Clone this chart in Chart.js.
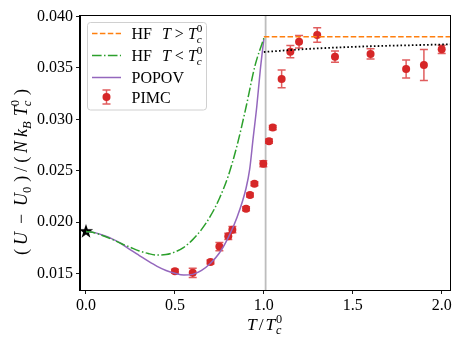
<!DOCTYPE html>
<html><head><meta charset="utf-8">
<script src="https://cdn.jsdelivr.net/npm/chart.js@4/dist/chart.umd.min.js"></script>
<style>html,body{margin:0;padding:0;background:#fff;overflow:hidden}</style>
</head><body>
<canvas id="c" width="463" height="347"></canvas>
<script>
// ---- data ----
const xTicks = [0.0, 0.5, 1.0, 1.5, 2.0];
const yTicks = [0.015, 0.020, 0.025, 0.030, 0.035, 0.040];

const pimcT   = [0.5, 0.6, 0.7, 0.75, 0.8, 0.823, 0.9, 0.922, 0.947, 0.997, 1.029, 1.05, 1.1, 1.149, 1.198, 1.3, 1.4, 1.6, 1.8, 1.9, 2.0];
const pimcU   = [0.01522, 0.01507, 0.01613, 0.01762, 0.01862, 0.01927, 0.02131, 0.02264, 0.02374, 0.02568, 0.02788, 0.0292, 0.03393, 0.03658, 0.03755, 0.0382, 0.0361, 0.03636, 0.0349, 0.03529, 0.03681];
const pimcErr = [0.0002, 0.00045, 0.0002, 0.0004, 0.0003, 0.0003, 0.0002, 0.0002, 0.0002, 0.0003, 0.0002, 0.0002, 0.00086, 0.0006, 0.0006, 0.0007, 0.00055, 0.0005, 0.00087, 0.0015, 0.0004];

const popovT = [0, 0.05, 0.1, 0.15, 0.2, 0.25, 0.3, 0.35, 0.4, 0.45, 0.5, 0.55, 0.6, 0.65, 0.7, 0.75, 0.8, 0.85, 0.9, 0.92, 0.94, 0.96, 0.98, 1.0];
const popovU = [0.0191, 0.01898, 0.0187, 0.01835, 0.0179, 0.0173, 0.01675, 0.0162, 0.0157, 0.0153, 0.01502, 0.01485, 0.01492, 0.0153, 0.0160, 0.0170, 0.0185, 0.0205, 0.0233, 0.0251, 0.0282, 0.0312, 0.0348, 0.0378];

const hfLowT = [0, 0.05, 0.1, 0.15, 0.2, 0.25, 0.3, 0.35, 0.4, 0.45, 0.5, 0.55, 0.6, 0.65, 0.7, 0.75, 0.8, 0.85, 0.9, 0.95, 1.0];
const hfLowU = [0.0191, 0.01895, 0.01865, 0.0183, 0.0179, 0.01755, 0.0172, 0.01695, 0.0168, 0.01685, 0.0171, 0.01755, 0.0183, 0.0193, 0.0206, 0.0223, 0.0245, 0.0275, 0.0312, 0.0352, 0.0379];

const hfHighT = [1.0, 2.1];
const hfHighU = [0.03804, 0.03804];

const dottedT = [1.0, 1.1, 1.2, 1.3, 1.4, 1.5, 1.6, 1.7, 1.8, 1.9, 2.0, 2.1];
const dottedU = [0.03655, 0.03668, 0.0368, 0.0369, 0.03698, 0.03705, 0.03711, 0.03716, 0.0372, 0.03724, 0.03728, 0.03732];

const starT = [0.0];
const starU = [0.01915];

const tcLine = 1.01;

// ---- helpers ----
const pts = (xs, ys) => xs.map((x, i) => ({x, y: ys[i]}));
const FONT = "'Liberation Serif', 'DejaVu Serif', serif";
const FS = 16;

function fnt(size, it) { return (it ? 'italic ' : '') + size + 'px ' + FONT; }
function partW(ctx, p, size) {
  if (p.t !== undefined) { ctx.font = fnt(size, p.i); return ctx.measureText(p.t).width; }
  if (p.gap) return p.gap;
  let a = 0, b = 0;
  if (p.sub) { ctx.font = fnt(size * 0.7, p.subI); a = ctx.measureText(p.sub).width; }
  if (p.sup) { ctx.font = fnt(size * 0.7, p.supI); b = ctx.measureText(p.sup).width; }
  return Math.max(a, b) + 1;
}
function drawRich(ctx, x, y, parts, size, align, target) {
  let w = 0, ws = 0;
  parts.forEach((p, k) => { w += partW(ctx, p, size); if (k < parts.length - 1) ws += (p.w === undefined ? 1 : p.w); });
  const extra = target && ws ? Math.max(0, (target - w) / ws) : 0;
  const tw = target ? Math.max(target, w) : w;
  let cx = align === 'center' ? x - tw / 2 : x;
  ctx.save();
  ctx.textBaseline = 'alphabetic'; ctx.textAlign = 'left'; ctx.fillStyle = '#000';
  parts.forEach(p => {
    const pw = partW(ctx, p, size);
    if (p.t !== undefined) { ctx.font = fnt(size, p.i); ctx.fillText(p.t, cx, y); }
    else if (!p.gap) {
      if (p.sub) { ctx.font = fnt(size * 0.7, p.subI); ctx.fillText(p.sub, cx, y + size * 0.22); }
      if (p.sup) { ctx.font = fnt(size * 0.7, p.supI); ctx.fillText(p.sup, cx, y - size * 0.42); }
    }
    cx += pw + extra * (p.w === undefined ? 1 : p.w);
  });
  ctx.restore();
}

// star marker image
const starImg = document.createElement('canvas');
starImg.width = 16; starImg.height = 16;
(function () {
  const c = starImg.getContext('2d');
  c.fillStyle = '#000'; c.beginPath();
  for (let k = 0; k < 10; k++) {
    const r = k % 2 === 0 ? 7.5 : 3.0;
    const a = -Math.PI / 2 + k * Math.PI / 5;
    const px = 8 + r * Math.cos(a), py = 8.6 + r * Math.sin(a);
    k === 0 ? c.moveTo(px, py) : c.lineTo(px, py);
  }
  c.closePath(); c.fill();
})();

const RED = '#d62728';

const bgPlugin = {
  id: 'bgLines',
  beforeDatasetsDraw(chart) {
    const {ctx, chartArea: a, scales: {x}} = chart;
    const px = x.getPixelForValue(tcLine);
    ctx.save(); ctx.strokeStyle = '#bdbdbd'; ctx.lineWidth = 1.8;
    ctx.beginPath(); ctx.moveTo(px, a.top); ctx.lineTo(px, a.bottom); ctx.stroke(); ctx.restore();
  },
  beforeDatasetDraw(chart, args) {
    if (chart.data.datasets[args.index].label !== 'PIMC') return;
    const {ctx, scales: {x, y}} = chart;
    ctx.save(); ctx.strokeStyle = 'rgba(214,39,40,0.75)'; ctx.lineWidth = 1.5;
    pimcT.forEach((t, i) => {
      const px = x.getPixelForValue(t);
      const y1 = y.getPixelForValue(pimcU[i] - pimcErr[i]);
      const y2 = y.getPixelForValue(pimcU[i] + pimcErr[i]);
      ctx.beginPath();
      ctx.moveTo(px, y1); ctx.lineTo(px, y2);
      ctx.moveTo(px - 4, y1); ctx.lineTo(px + 4, y1);
      ctx.moveTo(px - 4, y2); ctx.lineTo(px + 4, y2);
      ctx.stroke();
    });
    ctx.restore();
  },
  afterDatasetsDraw(chart) {
    const ctx = chart.ctx;
    ctx.save();
    ctx.beginPath(); ctx.roundRect(87.5, 22.5, 119, 87.5, 3);
    ctx.fillStyle = 'rgba(255,255,255,0.8)'; ctx.fill();
    ctx.strokeStyle = '#d0d0d0'; ctx.lineWidth = 1; ctx.stroke();
    const x0 = 92, x1 = 121, tx = 131.5;
    const rows = [33.5, 55.5, 77.5, 97];
    ctx.lineWidth = 1.5;
    ctx.strokeStyle = '#ff7f0e'; ctx.setLineDash([5.5, 2.4]);
    ctx.beginPath(); ctx.moveTo(x0, rows[0]); ctx.lineTo(x1, rows[0]); ctx.stroke();
    ctx.strokeStyle = '#2ca02c'; ctx.setLineDash([9.6, 2.4, 1.5, 2.4]);
    ctx.beginPath(); ctx.moveTo(x0, rows[1]); ctx.lineTo(x1, rows[1]); ctx.stroke();
    ctx.strokeStyle = '#9467bd'; ctx.setLineDash([]);
    ctx.beginPath(); ctx.moveTo(x0, rows[2]); ctx.lineTo(x1, rows[2]); ctx.stroke();
    const mx = (x0 + x1) / 2;
    ctx.strokeStyle = 'rgba(214,39,40,0.75)';
    ctx.beginPath();
    ctx.moveTo(mx, rows[3] - 7); ctx.lineTo(mx, rows[3] + 7);
    ctx.moveTo(mx - 4, rows[3] - 7); ctx.lineTo(mx + 4, rows[3] - 7);
    ctx.moveTo(mx - 4, rows[3] + 7); ctx.lineTo(mx + 4, rows[3] + 7);
    ctx.stroke();
    ctx.fillStyle = RED; ctx.beginPath(); ctx.arc(mx, rows[3], 4, 0, 2 * Math.PI); ctx.fill();
    const tcParts = [{sub: 'c', subI: true, sup: '0'}];
    drawRich(ctx, tx, rows[0] + 5.5, [{t: 'HF'}, {gap: 10}, {t: 'T', i: true}, {t: ' > '}, {t: 'T', i: true}, ...tcParts], FS);
    drawRich(ctx, tx, rows[1] + 5.5, [{t: 'HF'}, {gap: 10}, {t: 'T', i: true}, {t: ' < '}, {t: 'T', i: true}, ...tcParts], FS);
    drawRich(ctx, tx, rows[2] + 5.5, [{t: 'POPOV'}], FS);
    drawRich(ctx, tx, rows[3] + 5.5, [{t: 'PIMC'}], FS);
    ctx.restore();
  },
  afterDraw(chart) {
    const {ctx, chartArea: a} = chart;
    ctx.save();
    ctx.strokeStyle = '#000'; ctx.lineWidth = 1;
    ctx.strokeRect(Math.round(a.left) - 0.5, Math.round(a.top) + 0.5, Math.round(a.right - a.left) + 1, Math.round(a.bottom - a.top));
    drawRich(ctx, 265, 330, [{t: 'T', i: true}, {t: '/'}, {t: 'T', i: true, w: 0.3}, {sub: 'c', subI: true, sup: '0'}], 17.5, 'center', 36);
    ctx.translate(27, 172); ctx.rotate(-Math.PI / 2);
    drawRich(ctx, 0, 0, [
      {t: '('}, {t: 'U', i: true, w: 2}, {t: '−', w: 2}, {t: 'U', i: true, w: 0}, {sub: '0'}, {t: ')'}, {t: '/'},
      {t: '('}, {t: 'N', i: true}, {t: 'k', i: true, w: 0}, {sub: 'B', subI: true}, {t: 'T', i: true, w: 0}, {sub: 'c', subI: true, sup: '0'}, {t: ')'}
    ], 18, 'center', 166);
    ctx.restore();
  }
};

new Chart(document.getElementById('c'), {
  type: 'scatter',
  data: {
    datasets: [
      {label: 'HF T>Tc', data: pts(hfHighT, hfHighU), showLine: true, pointRadius: 0, borderColor: '#ff7f0e', borderWidth: 1.5, borderDash: [5.5, 2.4]},
      {label: 'dotted', data: pts(dottedT, dottedU), showLine: true, pointRadius: 0, borderColor: '#000', borderWidth: 1.8, borderDash: [1.6, 2.2], cubicInterpolationMode: 'monotone'},
      {label: 'HF T<Tc', data: pts(hfLowT, hfLowU), showLine: true, pointRadius: 0, borderColor: '#2ca02c', borderWidth: 1.5, borderDash: [9.6, 2.4, 1.5, 2.4], cubicInterpolationMode: 'monotone'},
      {label: 'POPOV', data: pts(popovT, popovU), showLine: true, pointRadius: 0, borderColor: '#9467bd', borderWidth: 1.5, cubicInterpolationMode: 'monotone'},
      {label: 'PIMC', data: pts(pimcT, pimcU), showLine: false, pointRadius: 4, pointBackgroundColor: RED, pointBorderColor: RED, pointBorderWidth: 0},
      {label: 'star', data: pts(starT, starU), showLine: false, pointStyle: starImg, pointRadius: 8, clip: false}
    ]
  },
  options: {
    responsive: false, animation: false, devicePixelRatio: 1,
    layout: {padding: {left: 0, right: 13, top: 15, bottom: 0}},
    plugins: {legend: {display: false}, tooltip: {enabled: false}},
    scales: {
      x: {
        type: 'linear', min: -0.0337, max: 2.0467,
        afterBuildTicks: s => { s.ticks = xTicks.map(v => ({value: v})); },
        afterFit: s => { s.height = 57; },
        ticks: {callback: v => v.toFixed(1), font: {family: FONT, size: FS}, color: '#000', padding: 2, maxRotation: 0, autoSkip: false},
        grid: {drawOnChartArea: false, drawTicks: true, tickLength: 4, color: '#000', lineWidth: 0.9},
        border: {display: true, color: '#000', width: 1}
      },
      y: {
        type: 'linear', min: 0.0134, max: 0.04015,
        afterBuildTicks: s => { s.ticks = yTicks.map(v => ({value: v})); },
        afterFit: s => { s.width = 80; },
        ticks: {callback: v => v.toFixed(3), font: {family: FONT, size: FS}, color: '#000', padding: 3, autoSkip: false},
        grid: {drawOnChartArea: false, drawTicks: true, tickLength: 4, color: '#000', lineWidth: 0.9},
        border: {display: true, color: '#000', width: 1}
      }
    }
  },
  plugins: [bgPlugin]
});
</script>
</body></html>
